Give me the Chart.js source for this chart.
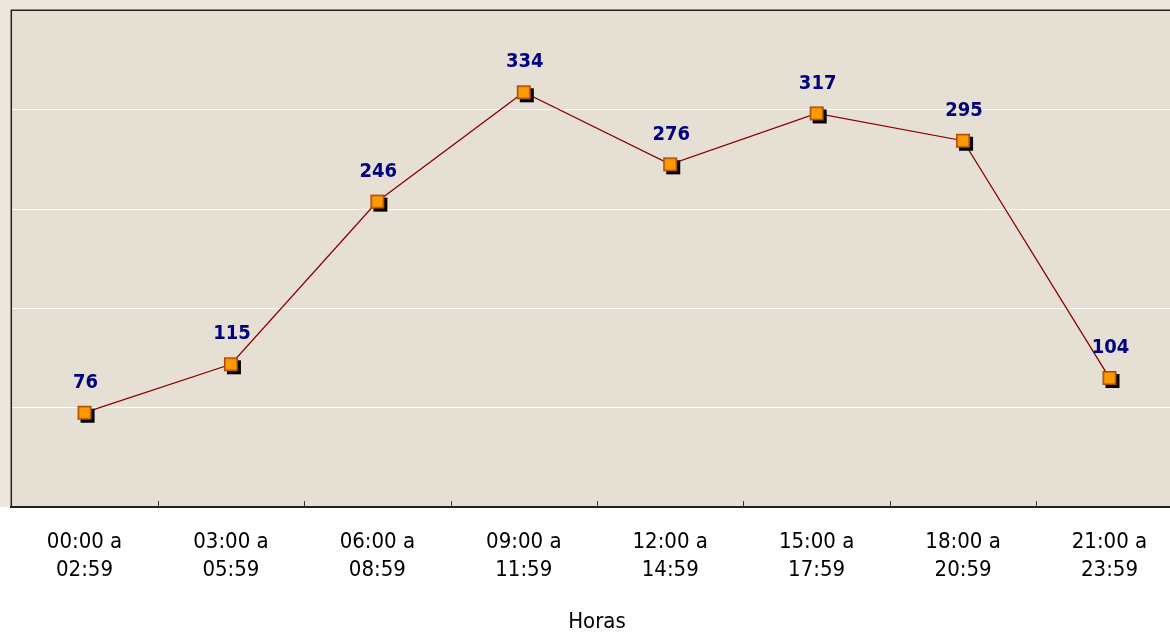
<!DOCTYPE html>
<html>
<head>
<meta charset="utf-8">
<script src="https://cdn.jsdelivr.net/npm/chart.js@4"></script>
<style>
  html, body { margin: 0; padding: 0; background: #fff; overflow: hidden; }
  #wrap { position: relative; width: 1200px; height: 637px; margin: -4px 0 0 -3px; }
</style>
</head>
<body>
<div id="wrap"><canvas id="chart"></canvas></div>
<script>
// --- data ---
const categories = [
  ['00:00 a', '02:59'], ['03:00 a', '05:59'], ['06:00 a', '08:59'], ['09:00 a', '11:59'],
  ['12:00 a', '14:59'], ['15:00 a', '17:59'], ['18:00 a', '20:59'], ['21:00 a', '23:59'],
];
const values = [76, 115, 246, 334, 276, 317, 295, 104];
const yMin = 0, yMax = 400, yStep = 80;
const xTitle = 'Horas';

const FONT = "'DejaVu Sans Condensed', 'DejaVu Sans', sans-serif";

// square marker with a black drop shadow, drawn once and reused as pointStyle
function makeMarker() {
  const c = document.createElement('canvas');
  c.width = 26; c.height = 26;
  const g = c.getContext('2d');
  g.fillStyle = '#000';
  g.fillRect(9, 9, 14, 14);
  g.fillStyle = '#FF9900';
  g.fillRect(6, 6, 14, 14);
  g.strokeStyle = '#A84A08';
  g.lineWidth = 1.5;
  g.strokeRect(6.75, 6.75, 12.5, 12.5);
  return c;
}

// paper background + top/left frame
const background = {
  id: 'background',
  beforeDraw(chart) {
    const { ctx, chartArea: a } = chart;
    ctx.save();
    ctx.fillStyle = '#ECE6DC';
    ctx.fillRect(0, 0, chart.width, a.bottom);
    ctx.fillStyle = '#E6DFD3';
    ctx.fillRect(a.left, a.top, a.right - a.left, a.bottom - a.top);
    ctx.restore();
  },
  afterDraw(chart) {
    const { ctx, chartArea: a, scales: { x } } = chart;
    ctx.save();
    ctx.strokeStyle = '#222';
    ctx.lineWidth = 1.5;
    ctx.beginPath();
    ctx.moveTo(a.left, a.bottom);
    ctx.lineTo(a.left, a.top);
    ctx.lineTo(a.right, a.top);
    ctx.stroke();
    // inward tick marks at the category boundaries
    ctx.lineWidth = 1;
    ctx.strokeStyle = '#333';
    const half = (x.getPixelForValue(1) - x.getPixelForValue(0)) / 2;
    for (let i = 1; i < categories.length; i++) {
      const px = Math.round(x.getPixelForValue(i) - half) + 0.5;
      ctx.beginPath();
      ctx.moveTo(px, a.bottom);
      ctx.lineTo(px, a.bottom - 6);
      ctx.stroke();
    }
    ctx.restore();
  },
};

// value labels above the markers
const valueLabels = {
  id: 'valueLabels',
  afterDatasetsDraw(chart) {
    const { ctx } = chart;
    const meta = chart.getDatasetMeta(0);
    ctx.save();
    ctx.font = 'bold 20px ' + FONT;
    ctx.fillStyle = '#000080';
    ctx.textAlign = 'center';
    ctx.textBaseline = 'middle';
    meta.data.forEach((pt, i) => {
      ctx.fillText(String(values[i]), pt.x + 1, pt.y - 30);
    });
    ctx.restore();
  },
};

new Chart(document.getElementById('chart'), {
  type: 'line',
  data: {
    labels: categories,
    datasets: [{
      data: values,
      borderColor: '#8B0000',
      borderWidth: 1.3,
      tension: 0,
      pointStyle: makeMarker(),
      pointRadius: 13,
      pointHoverRadius: 13,
    }],
  },
  options: {
    responsive: true, maintainAspectRatio: false, animation: false,
    devicePixelRatio: 1,
    layout: { padding: { left: 8, top: 6, right: 2, bottom: 0 } },
    plugins: { legend: { display: false }, tooltip: { enabled: false } },
    scales: {
      x: {
        offset: true,
        grid: { display: false },
        border: { display: true, color: '#222', width: 2 },
        ticks: { color: '#000', font: { family: FONT, size: 22, lineHeight: 1.27 }, padding: 13, maxRotation: 0, autoSkip: false },
        title: { display: true, text: xTitle, color: '#000', font: { family: FONT, size: 22, lineHeight: 1 }, padding: { top: 14, bottom: 0 } },
      },
      y: {
        min: yMin, max: yMax,
        ticks: { display: false, stepSize: yStep },
        grid: {
          drawTicks: false,
          color: c => (c.tick.value > yMin && c.tick.value < yMax) ? '#FFFFFF' : 'transparent',
          lineWidth: 1,
        },
        border: { display: false },
      },
    },
  },
  plugins: [background, valueLabels],
});
</script>
</body>
</html>
